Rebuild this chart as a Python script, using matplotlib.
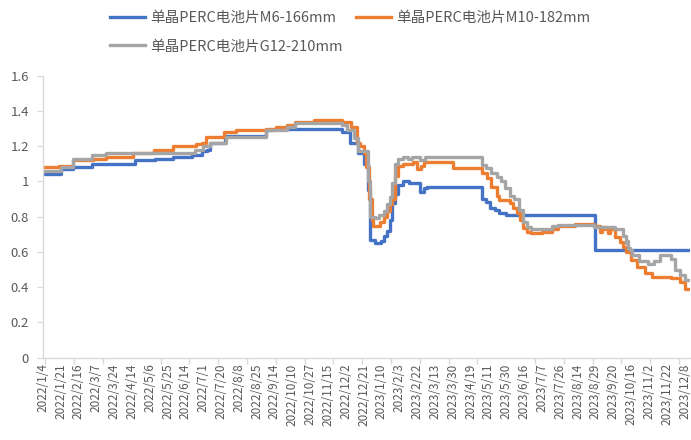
import numpy as np
import matplotlib
matplotlib.use("Agg")
import matplotlib.pyplot as plt

plt.rcParams['font.family'] = ['Noto Sans CJK SC', 'DejaVu Sans']
plt.rcParams['font.weight'] = 'light'

# category labels (one label every 13 trading days)
date_labels = ['2022/1/4', '2022/1/21', '2022/2/16', '2022/3/7', '2022/3/24', '2022/4/14',
               '2022/5/6', '2022/5/25', '2022/6/14', '2022/7/1', '2022/7/20', '2022/8/8',
               '2022/8/25', '2022/9/14', '2022/10/10', '2022/10/27', '2022/11/15', '2022/12/2',
               '2022/12/21', '2023/1/10', '2023/2/3', '2023/2/22', '2023/3/13', '2023/3/30',
               '2023/4/19', '2023/5/11', '2023/5/30', '2023/6/16', '2023/7/7', '2023/7/26',
               '2023/8/14', '2023/8/29', '2023/9/20', '2023/10/16', '2023/11/2', '2023/11/22',
               '2023/12/8']
label_step = 13
n_days = 473

# price change points: (trading-day index, price)
m6_idx = [0, 13, 22, 36, 67, 82, 95, 109, 116, 120, 122, 133, 163, 169, 218, 224, 230, 234,
          237, 239, 242, 247, 249, 251, 253, 255, 257, 259, 263, 267, 275, 278, 280, 320,
          323, 326, 330, 333, 338, 403]
m6_val = [1.04, 1.07, 1.08, 1.10, 1.12, 1.13, 1.14, 1.15, 1.17, 1.18, 1.22, 1.26, 1.29, 1.30,
          1.28, 1.22, 1.16, 1.10, 0.95, 0.67, 0.65, 0.66, 0.69, 0.72, 0.78, 0.88, 0.93, 0.98,
          1.00, 0.99, 0.94, 0.96, 0.97, 0.90, 0.885, 0.85, 0.84, 0.82, 0.81, 0.61]

m10_idx = [0, 12, 22, 37, 46, 66, 81, 95, 112, 116, 119, 132, 141, 163, 170, 178, 184, 198,
           218, 225, 229, 231, 234, 236, 238, 240, 241, 246, 249, 251, 253, 255, 257, 259,
           263, 270, 273, 276, 278, 299, 320, 324, 327, 331, 333, 341, 343, 346, 348, 350,
           353, 356, 364, 371, 376, 388, 402, 406, 408, 410, 412, 414, 417, 421, 423, 425,
           429, 433, 439, 444, 458, 465, 468]
m10_val = [1.08, 1.09, 1.12, 1.13, 1.14, 1.16, 1.18, 1.20, 1.21, 1.22, 1.25, 1.28, 1.29, 1.30,
           1.31, 1.32, 1.34, 1.35, 1.335, 1.31, 1.22, 1.20, 1.16, 1.08, 0.90, 0.78, 0.75, 0.77,
           0.80, 0.83, 0.87, 0.90, 1.03, 1.09, 1.10, 1.11, 1.07, 1.09, 1.11, 1.075, 1.046,
           1.02, 0.97, 0.92, 0.895, 0.875, 0.85, 0.82, 0.78, 0.734, 0.715, 0.706, 0.715,
           0.728, 0.747, 0.757, 0.75, 0.715, 0.74, 0.73, 0.71, 0.73, 0.686, 0.658, 0.63,
           0.60, 0.554, 0.516, 0.479, 0.46, 0.45, 0.43, 0.39]

g12_idx = [0, 13, 22, 36, 46, 111, 117, 122, 134, 163, 178, 184, 218, 222, 227, 230, 237,
           239, 242, 245, 249, 251, 253, 255, 257, 259, 263, 266, 269, 275, 279, 320, 323,
           327, 331, 334, 337, 341, 344, 347, 350, 353, 356, 371, 376, 402, 417, 423, 425,
           426, 427, 428, 430, 435, 441, 446, 450, 458, 461, 465, 468]
g12_val = [1.06, 1.08, 1.13, 1.15, 1.16, 1.18, 1.20, 1.22, 1.25, 1.29, 1.31, 1.33, 1.32, 1.29,
           1.245, 1.17, 1.00, 0.80, 0.79, 0.81, 0.83, 0.87, 0.91, 0.99, 1.10, 1.125, 1.14,
           1.125, 1.14, 1.12, 1.14, 1.093, 1.074, 1.046, 1.027, 1.00, 0.96, 0.92, 0.90, 0.84,
           0.77, 0.74, 0.73, 0.745, 0.753, 0.74, 0.73, 0.69, 0.65, 0.66, 0.62, 0.61, 0.58,
           0.55, 0.53, 0.55, 0.58, 0.56, 0.50, 0.47, 0.44]

series = [
    ('单晶PERC电池片M6-166mm', m6_idx, m6_val, '#4472C4'),
    ('单晶PERC电池片M10-182mm', m10_idx, m10_val, '#ED7D31'),
    ('单晶PERC电池片G12-210mm', g12_idx, g12_val, '#A5A5A5'),
]

text_col = '#595959'
axis_col = '#D9D9D9'

fig = plt.figure(figsize=(6.91, 4.40), dpi=100)
ax = fig.add_axes([0.0618, 0.187, 0.9368, 0.641])

lines = {}
for name, idx, val, col in series:
    # extend last level to the end of the axis
    xs = list(idx) + [n_days - 1]
    ys = list(val) + [val[-1]]
    ln, = ax.step(xs, ys, where='post', color=col, lw=2.4, label=name)
    lines[name] = ln

ax.set_xlim(0, n_days - 1)
ax.set_ylim(0, 1.6)

ax.set_yticks(np.arange(0, 1.61, 0.2))
ax.set_yticklabels(['0', '0.2', '0.4', '0.6', '0.8', '1', '1.2', '1.4', '1.6'])
ax.set_xticks(np.arange(len(date_labels)) * label_step)
ax.set_xticklabels(date_labels, rotation=90)
ax.set_xticks(np.arange(2, n_days, 21), minor=True)

ax.tick_params(axis='x', which='major', length=0, pad=4, labelsize=8.5, labelcolor=text_col)
ax.tick_params(axis='x', which='minor', length=4, color=axis_col, width=1)
ax.tick_params(axis='y', length=4, color=axis_col, labelsize=9.5, labelcolor=text_col, pad=6)

for s in ['top', 'right']:
    ax.spines[s].set_visible(False)
for s in ['left', 'bottom']:
    ax.spines[s].set_color(axis_col)
    ax.spines[s].set_linewidth(1)

names = [s[0] for s in series]
handles = [lines[names[0]], lines[names[2]], lines[names[1]]]
labels = [names[0], names[2], names[1]]
leg = fig.legend(handles, labels, ncol=2, loc='upper left',
                 bbox_to_anchor=(0.159, 0.975), bbox_transform=fig.transFigure,
                 frameon=False, fontsize=10.5, handlelength=2.4, handletextpad=0.35,
                 columnspacing=0.9, labelspacing=1.0, borderpad=0, borderaxespad=0)
for t in leg.get_texts():
    t.set_color(text_col)

plt.savefig('out.png', dpi=100)
